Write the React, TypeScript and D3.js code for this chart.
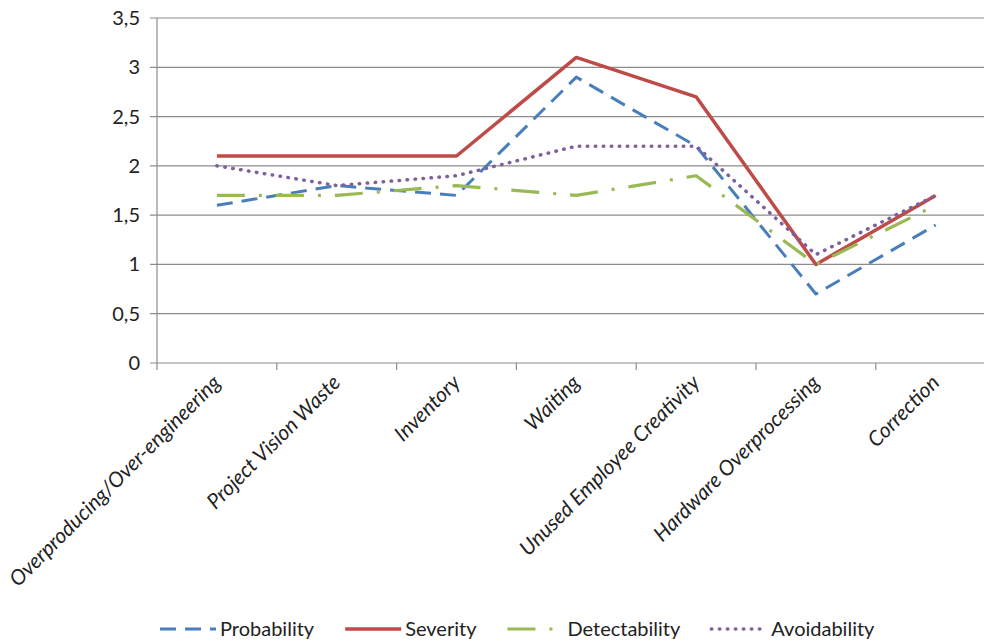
import * as d3 from "d3";
import React from "react";

const categories = [
  "Overproducing/Over-engineering",
  "Project Vision Waste",
  "Inventory",
  "Waiting",
  "Unused Employee Creativity",
  "Hardware Overprocessing",
  "Correction",
];
const probability = [1.6, 1.8, 1.7, 2.9, 2.2, 0.7, 1.4];
const severity = [2.1, 2.1, 2.1, 3.1, 2.7, 1.0, 1.7];
const detectability = [1.7, 1.7, 1.8, 1.7, 1.9, 1.0, 1.6];
const avoidability = [2.0, 1.8, 1.9, 2.2, 2.2, 1.1, 1.7];
const yTicks = [0, 0.5, 1, 1.5, 2, 2.5, 3, 3.5];

const series = [
  { name: "Probability", values: probability, color: "#4a7ebb", dash: "16,9", width: 3, cap: "butt" },
  { name: "Severity", values: severity, color: "#be4b48", dash: "", width: 3.5, cap: "butt" },
  { name: "Detectability", values: detectability, color: "#98b954", dash: "28,14,3,14", width: 3.2, cap: "butt" },
  { name: "Avoidability", values: avoidability, color: "#7d60a0", dash: "0.5,7.5", width: 3.5, cap: "round" },
];

const W = 984;
const H = 642;
const FONT = "Lato, 'Noto Sans', sans-serif";
const LEGEND_SIZE = 20;

const measure = (s: string, size: number) => {
  const c = document.createElement("canvas").getContext("2d");
  if (!c) return s.length * size * 0.5;
  c.font = `${size}px Lato`;
  return c.measureText(s).width;
};

export default function App() {
  const left = 157;
  const band = 119.8;
  const x = d3
    .scaleBand<string>()
    .domain(categories)
    .range([left, left + band * categories.length]);
  const y = d3.scaleLinear().domain([0, 3.5]).range([363, 18]);
  const cx = (c: string) => (x(c) as number) + x.bandwidth() / 2;

  const line = d3
    .line<number>()
    .x((_, i) => cx(categories[i]))
    .y((d) => y(d));

  // legend layout
  const legendY = 629;
  let lx = 160;
  const legendItems = series.map((s) => {
    const item = { ...s, x: lx };
    lx += 60 + measure(s.name, LEGEND_SIZE) + 31;
    return item;
  });

  return (
    <svg
      width={W}
      height={H}
      style={{ position: "absolute", left: 0, top: 0, background: "#fff" }}
      fontFamily={FONT}
    >
      {/* grid */}
      {yTicks.map((t) => (
        <g key={t}>
          <line x1={left - 7} x2={W} y1={y(t)} y2={y(t)} stroke="#8c8c8c" strokeWidth={1.2} />
          <text x={140} y={y(t)} dy="0.35em" textAnchor="end" fontSize={20} fill="#222">
            {String(t).replace(".", ",")}
          </text>
        </g>
      ))}
      <line x1={left} x2={left} y1={y(3.5)} y2={y(0)} stroke="#8c8c8c" strokeWidth={1.2} />
      {/* x ticks */}
      {categories.map((c) => (
        <line
          key={c}
          x1={x(c) as number}
          x2={x(c) as number}
          y1={y(0)}
          y2={y(0) + 7}
          stroke="#8c8c8c"
          strokeWidth={1.2}
        />
      ))}
      {categories.map((c) => (
        <text
          key={c}
          transform={`translate(${cx(c) + 5},${y(0) + 21}) rotate(-45)`}
          textAnchor="end"
          fontSize={21}
          fontStyle="italic"
          fill="#222"
        >
          {c}
        </text>
      ))}
      {/* series */}
      {series.map((s) => (
        <path
          key={s.name}
          d={line(s.values) as string}
          fill="none"
          stroke={s.color}
          strokeWidth={s.width}
          strokeDasharray={s.dash || undefined}
          strokeLinecap={s.cap as any}
          strokeLinejoin="round"
        />
      ))}
      {/* legend */}
      {legendItems.map((s) => (
        <g key={s.name}>
          <line
            x1={s.x}
            x2={s.x + 56}
            y1={legendY}
            y2={legendY}
            stroke={s.color}
            strokeWidth={s.width}
            strokeDasharray={s.dash || undefined}
            strokeLinecap={s.cap as any}
          />
          <text x={s.x + 60} y={legendY} dy="0.35em" fontSize={LEGEND_SIZE} fill="#222">
            {s.name}
          </text>
        </g>
      ))}
    </svg>
  );
}
